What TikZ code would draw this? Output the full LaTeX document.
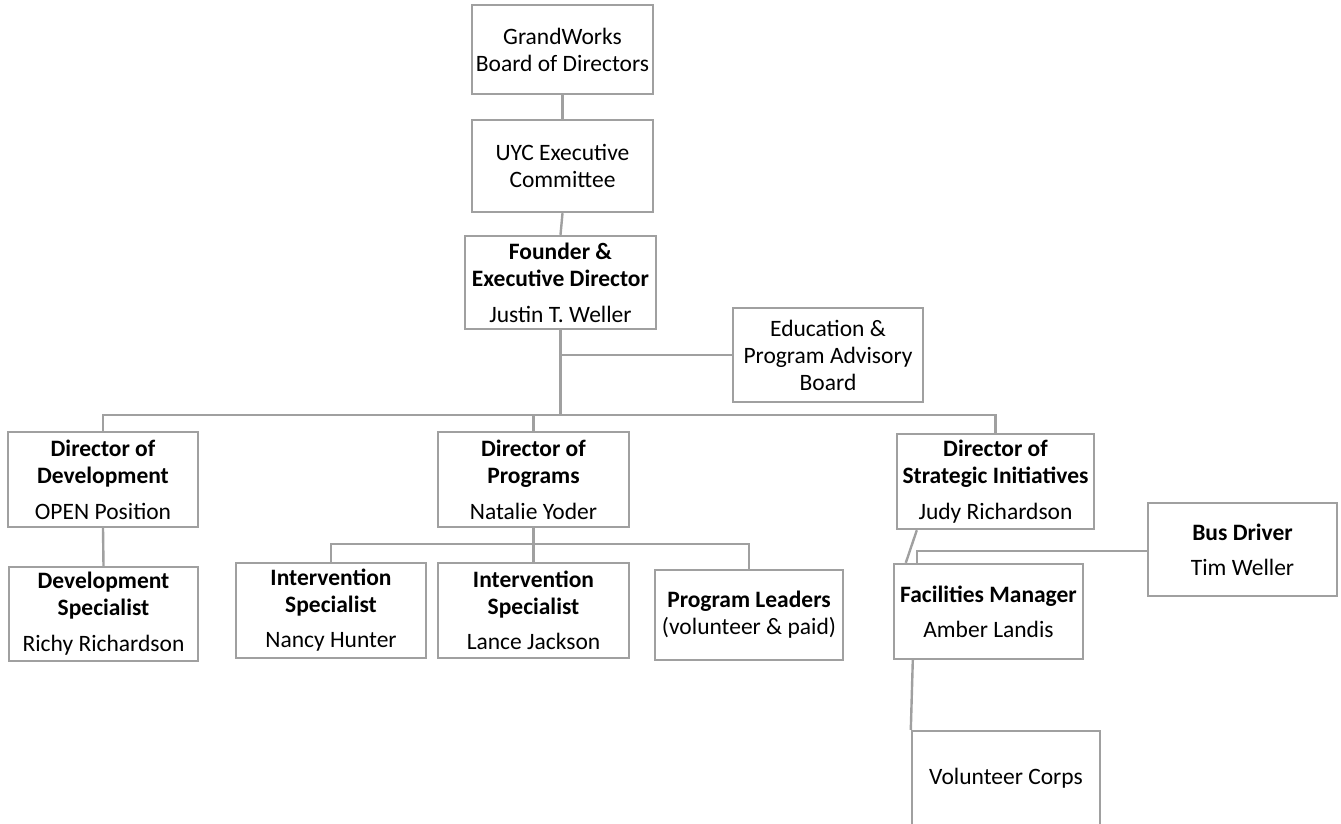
\documentclass[tikz,border=0pt]{standalone}
\usepackage{fontspec}
\setmainfont{Carlito}
\usetikzlibrary{calc}
\definecolor{linegray}{HTML}{A0A0A0}
\begin{document}
\begin{tikzpicture}[x=1pt,y=-1pt,
  box/.style={draw=linegray, line width=2.4pt, fill=white, align=center, inner sep=1pt,
    font=\fontsize{23.5}{27}\selectfont, text=black},
  conn/.style={draw=linegray, line width=2.4pt}]
\useasboundingbox (0,0) rectangle (1341,824);
% boxes
\node[box, minimum width=181, minimum height=89] (gw) at (562.5,49.5) {GrandWorks\\Board of Directors};
\node[box, minimum width=181, minimum height=92] (uyc) at (562.5,166) {UYC Executive\\Committee};
\node[box, minimum width=191, minimum height=93] (fed) at (560.5,282.5) {\textbf{Founder \&}\\\textbf{Executive Director}\\[9pt]Justin T. Weller};
\node[box, minimum width=190, minimum height=94] (epab) at (828,355) {Education \&\\Program Advisory\\Board};
\node[box, minimum width=190, minimum height=95] (dod) at (103,479.5) {\textbf{Director of}\\\textbf{Development}\\[9pt]OPEN Position};
\node[box, minimum width=189, minimum height=94] (ds) at (103.5,614) {\textbf{Development}\\\textbf{Specialist}\\[9pt]Richy Richardson};
\node[box, minimum width=191, minimum height=95] (dop) at (533.5,479.5) {\textbf{Director of}\\\textbf{Programs}\\[9pt]Natalie Yoder};
\node[box, minimum width=190, minimum height=95] (isa) at (331,610.5) {\textbf{Intervention}\\\textbf{Specialist}\\[8pt]Nancy Hunter};
\node[box, minimum width=191, minimum height=95] (isb) at (533.5,610.5) {\textbf{Intervention}\\\textbf{Specialist}\\[8pt]Lance Jackson};
\node[box, minimum width=188, minimum height=90] (pl) at (749,615) {\textbf{Program Leaders}\\(volunteer \& paid)};
\node[box, minimum width=197, minimum height=95] (dsi) at (995.5,481.5) {\textbf{Director of}\\\textbf{Strategic Initiatives}\\[9pt]Judy Richardson};
\node[box, minimum width=189, minimum height=93] (bus) at (1242.5,549.5) {\textbf{Bus Driver}\\[8pt]Tim Weller};
\node[box, minimum width=189, minimum height=95] (fm) at (988.5,611.5) {\textbf{Facilities Manager}\\[8pt]Amber Landis};
\node[box, minimum width=188, minimum height=94] (vc) at (1006,778) {Volunteer Corps};
% junction coordinates
\coordinate (j) at ($(fed.south)+(0,85)$);
\coordinate (k) at ($(dop.south)+(0,16)$);
\coordinate (dsiout) at ($(dsi.south west)+(21,0)$);
\coordinate (fmin) at ($(fm.north west)+(13,0)$);
\coordinate (m) at ($(dsi.south west)+(21,21)$);
\coordinate (fmout) at ($(fm.south west)+(20,0)$);
\coordinate (vcin) at ($(vc.north west)+(0,0)$);
% connectors
\draw[conn] (gw.south) -- (uyc.north);
\draw[conn] (uyc.south) -- (fed.north);
\draw[conn] (fed.south) -- (j);
\draw[conn] (fed.south |- epab.west) -- (epab.west);
\draw[conn] (dod.north) |- (j) -| (dsi.north);
\draw[conn] (dop.north) -- (dop.north |- j);
\draw[conn] (dod.south) -- (ds.north);
\draw[conn] (dop.south) -- (k);
\draw[conn] (isa.north) |- (k) -| (pl.north);
\draw[conn] (isb.north) -- (k);
\draw[conn] (dsiout) -- (fmin);
\draw[conn] (m |- fm.north) -- (m) -- (m -| bus.west);
\draw[conn] (fmout) -- (vcin);
\end{tikzpicture}
\end{document}
